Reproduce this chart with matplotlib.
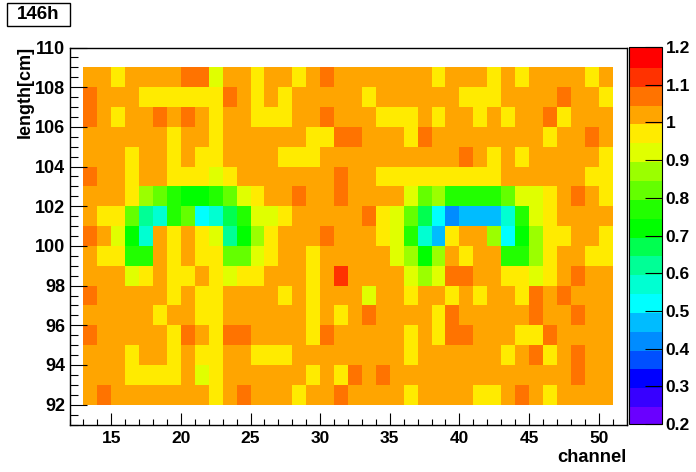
"""
146h channel/length map, saved as out.png
"""
import numpy as np
import matplotlib
matplotlib.use('Agg')
import matplotlib.pyplot as plt
from matplotlib.colors import BoundaryNorm, ListedColormap
from matplotlib.patches import Rectangle
from matplotlib.ticker import MultipleLocator

channel_edges = list(range(13, 52))
length_edges = list(range(92, 110))
colorbar_ticks = [0.2, 0.3, 0.4, 0.5, 0.6, 0.7, 0.8, 0.9, 1.0, 1.1, 1.2]
colorbar_labels = ['0.2', '0.3', '0.4', '0.5', '0.6', '0.7', '0.8', '0.9', '1', '1.1', '1.2']

# ratio in hundredths, one row per length bin
len_92 = [102, 107, 102, 102, 102, 102, 102, 102, 102, 97, 102, 107, 102, 102, 102, 97, 102, 102, 107,
          102, 102, 102, 102, 97, 102, 102, 102, 102, 97, 97, 102, 107, 102, 97, 102, 102, 102, 102]
len_93 = [102, 102, 102, 97, 97, 97, 97, 102, 92, 97, 102, 102, 102, 102, 102, 102, 97, 102, 97,
          107, 102, 107, 102, 102, 102, 102, 102, 102, 102, 102, 102, 102, 102, 102, 102, 107, 102, 102]
len_94 = [102, 102, 102, 97, 102, 102, 97, 102, 97, 97, 102, 102, 97, 97, 97, 102, 102, 102, 102,
          102, 102, 102, 102, 97, 102, 102, 102, 102, 102, 102, 97, 102, 107, 97, 102, 107, 102, 102]
len_95 = [107, 102, 102, 102, 102, 102, 97, 107, 102, 97, 107, 107, 102, 102, 102, 102, 97, 107, 102,
          102, 102, 102, 102, 97, 102, 97, 107, 107, 102, 102, 102, 97, 97, 107, 102, 102, 102, 102]
len_96 = [102, 102, 102, 102, 102, 97, 102, 102, 97, 97, 102, 102, 102, 102, 102, 102, 97, 102, 97,
          102, 107, 102, 102, 102, 102, 97, 107, 102, 102, 102, 102, 102, 107, 102, 102, 107, 102, 102]
len_97 = [107, 102, 102, 102, 102, 102, 97, 102, 97, 97, 102, 102, 102, 102, 97, 102, 97, 102, 102,
          102, 92, 102, 102, 97, 102, 102, 97, 102, 97, 102, 102, 97, 107, 102, 107, 102, 102, 102]
len_98 = [102, 102, 102, 92, 97, 102, 97, 97, 102, 97, 92, 97, 97, 102, 102, 102, 97, 102, 112,
          102, 102, 102, 102, 92, 87, 92, 107, 107, 102, 102, 97, 97, 92, 97, 102, 107, 102, 102]
len_99 = [102, 97, 97, 77, 77, 102, 97, 102, 97, 97, 82, 82, 92, 97, 102, 102, 97, 102, 102,
          102, 102, 102, 92, 87, 72, 87, 102, 97, 102, 102, 77, 77, 87, 97, 102, 102, 97, 97]
len_100 = [107, 102, 92, 72, 57, 102, 97, 102, 97, 92, 62, 72, 87, 97, 102, 102, 102, 107, 102,
           102, 102, 97, 92, 77, 57, 47, 97, 102, 102, 87, 52, 72, 87, 97, 97, 102, 102, 97]
len_101 = [102, 97, 97, 82, 62, 57, 77, 82, 52, 57, 67, 77, 92, 92, 97, 102, 102, 102, 102,
           102, 107, 97, 92, 82, 67, 52, 42, 47, 47, 47, 57, 77, 92, 97, 102, 102, 102, 102]
len_102 = [102, 102, 102, 97, 87, 82, 77, 72, 72, 77, 82, 92, 97, 102, 102, 107, 102, 102, 107,
           102, 102, 102, 102, 92, 82, 87, 77, 77, 77, 77, 82, 92, 92, 97, 102, 107, 102, 97]
len_103 = [107, 102, 102, 97, 102, 102, 97, 97, 97, 92, 97, 102, 102, 102, 102, 102, 102, 102, 107,
           102, 102, 97, 97, 97, 97, 97, 97, 97, 97, 97, 102, 102, 102, 102, 102, 102, 97, 97]
len_104 = [102, 102, 102, 97, 102, 102, 97, 102, 97, 97, 102, 102, 102, 102, 97, 97, 97, 102, 102,
           102, 102, 102, 102, 102, 102, 102, 102, 107, 102, 97, 102, 97, 102, 102, 102, 102, 102, 97]
len_105 = [102, 102, 102, 102, 102, 102, 97, 102, 102, 97, 102, 102, 102, 102, 102, 102, 97, 97, 107,
           107, 102, 102, 102, 97, 107, 102, 102, 102, 102, 102, 102, 102, 102, 97, 102, 102, 107, 102]
len_106 = [107, 102, 97, 102, 102, 107, 102, 107, 102, 97, 102, 102, 97, 97, 97, 102, 102, 107, 102,
           102, 102, 97, 97, 97, 102, 97, 102, 102, 97, 102, 97, 102, 102, 107, 97, 102, 102, 102]
len_107 = [107, 102, 102, 102, 97, 97, 97, 97, 97, 97, 107, 102, 97, 102, 97, 102, 102, 102, 102,
           102, 97, 102, 102, 102, 102, 102, 102, 97, 97, 97, 102, 102, 102, 102, 107, 102, 102, 97]
len_108 = [102, 102, 97, 102, 102, 102, 102, 107, 107, 92, 102, 102, 97, 102, 102, 97, 102, 107, 102,
           102, 102, 102, 102, 102, 102, 97, 102, 102, 102, 97, 102, 97, 102, 102, 102, 102, 97, 102]

ratio_rows = [len_92, len_93, len_94, len_95, len_96, len_97, len_98, len_99, len_100,
              len_101, len_102, len_103, len_104, len_105, len_106, len_107, len_108]

# palette steps from low to high, 0.05 wide
level_edges = np.linspace(0.2, 1.2, 21)
level_colors = ['#6a00ff', '#3700ff', '#0000ff', '#0050ff', '#008cff',
                '#00bcff', '#00ffff', '#00ffd2', '#00ff96', '#00ff50',
                '#00ff00', '#22ff00', '#64ff00', '#9bff00', '#e0ff00',
                '#ffeb00', '#ffa500', '#ff7300', '#ff3200', '#ff0000']

W, H = 696.0, 472.0


def pixel_box(left, top, right, bottom):
    return [left / W, 1 - bottom / H, (right - left) / W, (bottom - top) / H]


def main():
    plt.rcParams['font.family'] = ['Liberation Sans', 'DejaVu Sans']
    plt.rcParams['font.weight'] = 'bold'
    fig = plt.figure(figsize=(6.96, 4.72), dpi=100)
    ax = fig.add_axes(pixel_box(69.5, 47.5, 626.5, 424.5))
    cax = fig.add_axes(pixel_box(629, 47, 661.5, 424))

    cmap = ListedColormap(level_colors)
    norm = BoundaryNorm(level_edges, cmap.N)
    ratio = np.array(ratio_rows) / 100.0
    mesh = ax.pcolormesh(channel_edges, length_edges, ratio, cmap=cmap, norm=norm,
                         antialiased=False, linewidth=0)

    ax.set_xlim(12, 52)
    ax.set_ylim(91, 110)
    ax.xaxis.set_major_locator(MultipleLocator(5))
    ax.xaxis.set_minor_locator(MultipleLocator(1))
    ax.yaxis.set_major_locator(MultipleLocator(2))
    ax.yaxis.set_minor_locator(MultipleLocator(0.5))
    ax.tick_params(axis='x', which='major', direction='in', length=8.5, width=0.8,
                   labelsize=12.5, pad=5)
    ax.tick_params(axis='x', which='minor', direction='in', length=4.2, width=0.8)
    ax.tick_params(axis='y', which='major', direction='in', length=12, width=0.8,
                   labelsize=13, pad=3)
    ax.tick_params(axis='y', which='minor', direction='in', length=6, width=0.8)
    for spine in ax.spines.values():
        spine.set_linewidth(1.0)

    bar = fig.colorbar(mesh, cax=cax, ticks=colorbar_ticks, drawedges=False)
    bar.ax.set_yticklabels(colorbar_labels)
    bar.ax.tick_params(direction='in', length=12.5, width=0.8, labelsize=12.5, pad=3)
    bar.ax.minorticks_off()
    bar.outline.set_linewidth(0.8)
    bar.solids.set_edgecolor('face')

    fig.text(25 / W, 1 - 92 / H, 'length[cm]', rotation=90, ha='center', va='center',
             fontsize=13, fontweight='bold')
    fig.text(627 / W, 1 - 457.5 / H, 'channel', ha='right', va='center',
             fontsize=13.2, fontweight='bold')

    fig.add_artist(Rectangle((6.5 / W, 1 - 25.5 / H), 63 / W, 23 / H, transform=fig.transFigure,
                             facecolor='white', edgecolor='black', linewidth=1.0))
    fig.text(38 / W, 1 - 14.5 / H, '146h', ha='center', va='center',
             fontsize=13.5, fontweight='bold')

    fig.savefig('out.png', dpi=100)


if __name__ == '__main__':
    main()
